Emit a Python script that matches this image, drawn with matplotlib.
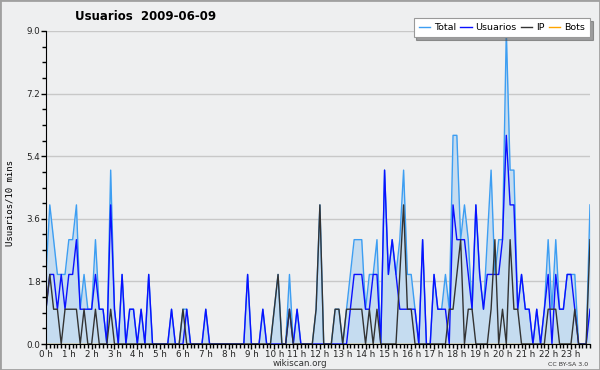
import numpy as np
import matplotlib
matplotlib.use("Agg")
import matplotlib.pyplot as plt
from matplotlib.patches import Rectangle

# datos cada 10 minutos (144 intervalos) - 2009-06-09
usuarios = [1, 2, 2, 1, 2, 1, 2, 2, 3, 1, 1, 1, 1, 2, 1, 1, 0, 4, 1, 0, 2, 0, 1, 1,
            0, 1, 0, 2, 0, 0, 0, 0, 0, 1, 0, 0, 0, 1, 0, 0, 0, 0, 1, 0, 0, 0, 0, 0,
            0, 0, 0, 0, 0, 2, 0, 0, 0, 1, 0, 0, 0, 0, 0, 0, 1, 0, 1, 0, 0, 0, 0, 0,
            0, 0, 0, 0, 0, 0, 0, 0, 1, 2, 2, 2, 1, 1, 2, 2, 0, 5, 2, 3, 2, 1, 1, 1,
            1, 1, 0, 3, 0, 0, 2, 1, 1, 1, 0, 4, 3, 3, 3, 2, 1, 4, 2, 1, 2, 2, 2, 2,
            3, 6, 4, 4, 1, 2, 1, 1, 0, 1, 0, 1, 2, 0, 2, 1, 1, 2, 2, 1, 0, 0, 0, 1]
ip = [1, 2, 1, 1, 0, 1, 1, 1, 1, 0, 1, 0, 0, 1, 0, 0, 0, 1, 0, 0, 0, 0, 0, 0,
      0, 0, 0, 0, 0, 0, 0, 0, 0, 0, 0, 0, 1, 0, 0, 0, 0, 0, 0, 0, 0, 0, 0, 0,
      0, 0, 0, 0, 0, 0, 0, 0, 0, 0, 0, 0, 1, 2, 0, 0, 1, 0, 0, 0, 0, 0, 0, 1,
      4, 0, 0, 0, 1, 1, 0, 1, 1, 1, 1, 1, 0, 1, 0, 1, 0, 0, 0, 0, 0, 2, 4, 1,
      1, 0, 0, 0, 0, 0, 0, 0, 0, 0, 1, 1, 2, 3, 0, 1, 1, 0, 0, 0, 0, 1, 3, 0,
      1, 0, 3, 1, 1, 0, 0, 0, 0, 0, 0, 0, 1, 1, 1, 0, 0, 0, 0, 1, 0, 0, 0, 3]
total = [2, 4, 3, 2, 2, 2, 3, 3, 4, 1, 2, 1, 1, 3, 1, 1, 0, 5, 1, 0, 2, 0, 1, 1,
         0, 1, 0, 2, 0, 0, 0, 0, 0, 1, 0, 0, 1, 1, 0, 0, 0, 0, 1, 0, 0, 0, 0, 0,
         0, 0, 0, 0, 0, 2, 0, 0, 0, 1, 0, 0, 1, 2, 0, 0, 2, 0, 1, 0, 0, 0, 0, 1,
         4, 0, 0, 0, 1, 1, 0, 1, 2, 3, 3, 3, 1, 2, 2, 3, 0, 5, 2, 3, 2, 3, 5, 2,
         2, 1, 0, 3, 0, 0, 2, 1, 1, 2, 1, 6, 6, 3, 4, 3, 1, 4, 2, 1, 3, 5, 2, 3,
         3, 9, 5, 5, 1, 2, 1, 1, 0, 1, 0, 1, 3, 1, 3, 1, 1, 2, 2, 2, 0, 0, 0, 4]
bots = [0] * 144
hour_labels = [f"{h} h" for h in range(24)]

BG = "#eeeff0"
x = np.arange(len(total))

fig = plt.figure(figsize=(6, 3.7), dpi=100, facecolor=BG)
ax = fig.add_axes([46 / 600, 26 / 370, 544 / 600, 313 / 370], facecolor=BG)

ax.fill_between(x, total, 0, color="#c5dcf0", lw=0, zorder=1)
l_bots, = ax.plot(x, bots, color="#ffa500", lw=1, zorder=1.2, label="Bots")
l_tot, = ax.plot(x, total, color="#3d9ef2", lw=1, zorder=2, label="Total")
l_usu, = ax.plot(x, usuarios, color="#0a10ff", lw=1, zorder=2.1, label="Usuarios")
l_ip, = ax.plot(x, ip, color="#333333", lw=1, zorder=2.2, label="IP")

ax.set_xlim(0, 143)
ax.set_ylim(0, 9)
ax.set_yticks(np.arange(0, 9.01, 1.8))
ax.set_yticks(np.arange(0, 9.01, 0.45), minor=True)
ax.yaxis.set_major_formatter(matplotlib.ticker.FormatStrFormatter("%.1f"))
ax.set_xticks(np.arange(0, 144, 6))
ax.set_xticklabels(hour_labels)
ax.set_xticks(np.arange(0, 144, 1), minor=True)
ax.grid(axis="y", color="#c8c8c8", lw=1)
ax.set_axisbelow(True)

for s in ["top", "right"]:
    ax.spines[s].set_visible(False)
ax.tick_params(axis="both", which="major", labelsize=6.3, colors="black",
               labelcolor="#222222", length=3.5, width=1, pad=0.5)
ax.tick_params(axis="both", which="minor", length=3, width=1)

ax.set_ylabel("Usuarios/10 mins", family="DejaVu Sans Mono", fontsize=6.5)
ax.yaxis.set_label_coords(-0.058, 0.45)

fig.text(75 / 600, 1 - 17 / 370, "Usuarios  2009-06-09", fontsize=8.5,
         fontweight="bold", va="center", ha="left")
fig.text(300 / 600, 1 - 364 / 370, "wikiscan.org", fontsize=6.3, ha="center",
         va="center", color="#333333")
fig.text(588 / 600, 1 - 364 / 370, "CC BY-SA 3.0", fontsize=4.5, ha="right",
         va="center", color="#333333")

leg = ax.legend(handles=[l_tot, l_usu, l_ip, l_bots], loc="upper right",
                bbox_to_anchor=(1.0, 1.0415), ncol=4, fontsize=6.8, frameon=True,
                fancybox=False, shadow=True, handlelength=1.2, handletextpad=0.4,
                columnspacing=0.45, borderpad=0.55, borderaxespad=0)
leg.get_frame().set_edgecolor("#999999")
leg.get_frame().set_linewidth(0.8)

fig.patches.append(Rectangle((0, 0), 1, 1, transform=fig.transFigure,
                             fill=False, edgecolor="#a0a0a0", lw=2))

fig.savefig("out.png", dpi=100, facecolor=BG)
